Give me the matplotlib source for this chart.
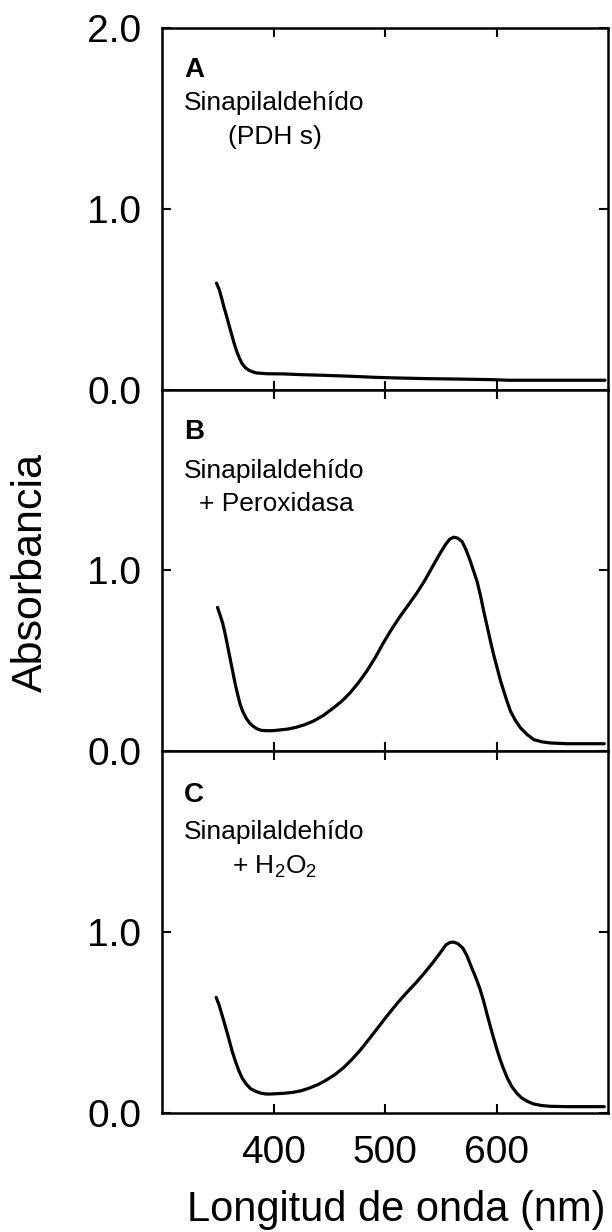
import matplotlib
matplotlib.use("Agg")
import matplotlib.pyplot as plt

plt.rcParams["font.family"] = ["Liberation Sans", "DejaVu Sans"]
plt.rcParams["mathtext.fontset"] = "custom"
plt.rcParams["mathtext.rm"] = "Liberation Sans"

# Spectrum A: Sinapilaldehído (PDH s)
wl_a = [348.9, 351.4, 353.5, 355.6, 358.0, 360.4, 362.5, 364.9, 367.0, 369.4, 371.5,
        374.5, 377.5, 381.1, 385.0, 389.5, 394.0, 409.0, 424.0, 446.5, 469.1, 491.6,
        514.1, 536.6, 559.2, 580.2, 598.2, 610.2, 697.3]
abs_a = [0.589, 0.552, 0.506, 0.455, 0.405, 0.350, 0.304, 0.252, 0.212, 0.175, 0.147,
         0.123, 0.109, 0.099, 0.092, 0.090, 0.088, 0.087, 0.083, 0.079, 0.074, 0.068,
         0.064, 0.061, 0.059, 0.057, 0.055, 0.052, 0.052]

# Spectrum B: Sinapilaldehído + Peroxidasa
wl_b = [349.8, 352.0, 354.4, 356.8, 358.9, 361.0, 363.4, 365.8, 367.9, 370.0, 372.4,
        375.4, 378.4, 381.4, 385.0, 388.9, 393.4, 399.4, 405.4, 412.9, 420.4, 427.9,
        435.4, 444.4, 453.5, 461.0, 468.5, 476.0, 483.5, 491.0, 498.5, 506.0, 513.5,
        521.0, 528.5, 536.0, 543.5, 549.5, 554.1, 558.0, 561.6, 565.2, 569.1, 572.7,
        576.6, 579.6, 582.6, 585.6, 588.6, 591.6, 594.6, 597.6, 600.6, 603.6, 606.6,
        609.6, 612.6, 617.1, 621.6, 627.6, 633.6, 641.1, 648.6, 663.6, 696.7]
abs_b = [0.796, 0.755, 0.709, 0.645, 0.580, 0.516, 0.442, 0.368, 0.313, 0.262, 0.221,
         0.184, 0.158, 0.140, 0.125, 0.116, 0.114, 0.114, 0.118, 0.123, 0.133, 0.147,
         0.166, 0.197, 0.239, 0.276, 0.322, 0.378, 0.442, 0.516, 0.599, 0.676, 0.746,
         0.810, 0.875, 0.948, 1.031, 1.096, 1.142, 1.173, 1.184, 1.179, 1.160, 1.114,
         1.050, 0.994, 0.939, 0.862, 0.773, 0.691, 0.608, 0.530, 0.460, 0.390, 0.331,
         0.273, 0.221, 0.169, 0.129, 0.092, 0.064, 0.052, 0.046, 0.042, 0.042]

# Spectrum C: Sinapilaldehído + H2O2
wl_c = [348.6, 351.1, 353.8, 356.8, 359.8, 362.8, 365.9, 368.9, 371.9, 375.5, 379.5,
        384.0, 388.5, 393.1, 397.6, 403.6, 409.7, 417.2, 424.8, 432.3, 439.9, 447.4,
        455.0, 462.5, 470.1, 477.6, 485.2, 492.7, 500.3, 506.3, 512.4, 519.9, 527.5,
        535.0, 542.6, 548.6, 554.7, 558.3, 561.3, 565.2, 569.8, 573.4, 577.3, 581.0,
        584.9, 588.5, 592.4, 596.1, 600.0, 603.0, 606.0, 609.7, 613.6, 618.1, 622.6,
        627.8, 633.2, 640.8, 648.3, 663.4, 696.7]
abs_c = [0.639, 0.599, 0.543, 0.479, 0.414, 0.344, 0.285, 0.234, 0.193, 0.160, 0.134,
         0.120, 0.110, 0.105, 0.105, 0.107, 0.109, 0.114, 0.123, 0.138, 0.157, 0.182,
         0.212, 0.249, 0.295, 0.346, 0.405, 0.464, 0.525, 0.571, 0.617, 0.669, 0.718,
         0.772, 0.829, 0.878, 0.930, 0.943, 0.945, 0.937, 0.912, 0.871, 0.810, 0.755,
         0.691, 0.617, 0.525, 0.442, 0.359, 0.300, 0.249, 0.193, 0.147, 0.110, 0.083,
         0.064, 0.050, 0.041, 0.037, 0.035, 0.035]

x_ticks = [400, 500, 600]

panels = [
    ("A", "Sinapilaldehído", "(PDH s)", wl_a, abs_a,
     (0.884, 0.793, 0.699), 0.148),
    ("B", "Sinapilaldehído", "+ Peroxidasa", wl_b, abs_b,
     (0.884, 0.774, 0.683), 0.083),
    ("C", "Sinapilaldehído", r"+ H$_2$O$_2$", wl_c, abs_c,
     (0.878, 0.778, 0.680), 0.157),
]

fig, axes = plt.subplots(3, 1, figsize=(6.12, 12.32), dpi=100, sharex=True)
fig.subplots_adjust(left=0.2647, right=0.9935, top=0.9773, bottom=0.0966, hspace=0)

for i, (ax, (letter, name, extra, wl, ab, ys, x_extra)) in enumerate(zip(axes, panels)):
    ax.plot(wl, ab, color="black", lw=2.3, solid_capstyle="round",
            solid_joinstyle="round")
    ax.set_xlim(300, 700)
    ax.set_ylim(0, 2.0)
    ax.set_xticks(x_ticks)
    if i == 0:
        ax.set_yticks([0, 1, 2])
        ax.set_yticklabels(["0.0", "1.0", "2.0"])
    else:
        ax.set_yticks([0, 1])
        ax.set_yticklabels(["0.0", "1.0"])
    ax.tick_params(direction="in", top=True, right=True, length=6.5, width=1.5,
                   labelsize=28)
    ax.tick_params(axis="y", pad=15)
    ax.tick_params(axis="x", pad=16)
    for sp in ax.spines.values():
        sp.set_linewidth(1.8)

    ax.text(0.049, ys[0], letter, transform=ax.transAxes, fontsize=20,
            fontweight="bold", ha="left", va="center")
    ax.text(0.049, ys[1], name, transform=ax.transAxes, fontsize=19,
            ha="left", va="center")
    ax.text(x_extra, ys[2], extra, transform=ax.transAxes, fontsize=19,
            ha="left", va="center")

axes[-1].set_xticklabels([str(t) for t in x_ticks])

fig.text(31 / 612, 1 - 573 / 1232, "Absorbancia", rotation=90, fontsize=31,
         ha="center", va="center")
fig.text(396 / 612, 1 - 1210 / 1232, "Longitud de onda (nm)", fontsize=30,
         ha="center", va="center")

fig.savefig("out.png", dpi=100)
